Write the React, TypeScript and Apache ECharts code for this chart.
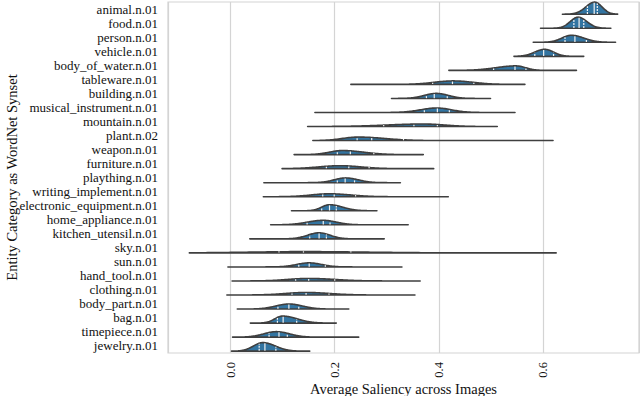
import React, { useEffect, useRef } from "react";
import * as echarts from "echarts";

const categories = [
  "animal.n.01", "food.n.01", "person.n.01", "vehicle.n.01", "body_of_water.n.01",
  "tableware.n.01", "building.n.01", "musical_instrument.n.01", "mountain.n.01", "plant.n.02",
  "weapon.n.01", "furniture.n.01", "plaything.n.01", "writing_implement.n.01", "electronic_equipment.n.01",
  "home_appliance.n.01", "kitchen_utensil.n.01", "sky.n.01", "sun.n.01", "hand_tool.n.01",
  "clothing.n.01", "body_part.n.01", "bag.n.01", "timepiece.n.01", "jewelry.n.01",
];

// extent of each violin (KDE support)
const minVals = [0.637, 0.595, 0.581, 0.544, 0.419, 0.231, 0.309, 0.162, 0.148, 0.158, 0.122, 0.099, 0.064, 0.063, 0.117, 0.077, 0.037, -0.079, -0.005, 0.003, -0.007, 0.013, 0.038, 0.004, 0.002];
const maxVals = [0.743, 0.730, 0.739, 0.678, 0.664, 0.565, 0.499, 0.546, 0.512, 0.619, 0.370, 0.390, 0.326, 0.418, 0.281, 0.341, 0.295, 0.625, 0.329, 0.364, 0.354, 0.227, 0.203, 0.246, 0.152];
// density peak location and spread on each side
const modeVals = [0.699, 0.667, 0.654, 0.603, 0.548, 0.427, 0.395, 0.396, 0.370, 0.245, 0.215, 0.210, 0.221, 0.190, 0.190, 0.178, 0.170, 0.140, 0.151, 0.150, 0.145, 0.112, 0.100, 0.088, 0.062];
const spreadLeft = [0.017, 0.015, 0.018, 0.019, 0.038, 0.036, 0.023, 0.031, 0.070, 0.030, 0.025, 0.040, 0.022, 0.035, 0.015, 0.030, 0.022, 0.100, 0.024, 0.040, 0.040, 0.025, 0.015, 0.024, 0.018];
const spreadRight = [0.014, 0.017, 0.024, 0.017, 0.018, 0.038, 0.023, 0.028, 0.040, 0.050, 0.040, 0.040, 0.024, 0.040, 0.025, 0.025, 0.021, 0.120, 0.024, 0.050, 0.045, 0.026, 0.028, 0.025, 0.024];
// peak density relative to the category band height
const peakDensity = [0.86, 0.79, 0.50, 0.50, 0.32, 0.25, 0.36, 0.32, 0.18, 0.25, 0.29, 0.21, 0.34, 0.21, 0.43, 0.32, 0.43, 0.09, 0.29, 0.18, 0.18, 0.36, 0.50, 0.39, 0.61];
// quartiles
const q1Vals = [0.685, 0.659, 0.642, 0.584, 0.505, 0.388, 0.376, 0.372, 0.294, 0.243, 0.205, 0.184, 0.205, 0.177, 0.175, 0.147, 0.152, 0.093, 0.131, 0.125, 0.118, 0.091, 0.090, 0.074, 0.055];
const medianVals = [0.698, 0.669, 0.661, 0.601, 0.546, 0.426, 0.391, 0.397, 0.352, 0.271, 0.230, 0.227, 0.220, 0.199, 0.190, 0.178, 0.170, 0.140, 0.151, 0.150, 0.145, 0.112, 0.101, 0.093, 0.066];
const q3Vals = [0.704, 0.678, 0.683, 0.620, 0.567, 0.467, 0.416, 0.420, 0.397, 0.332, 0.275, 0.266, 0.238, 0.240, 0.203, 0.191, 0.184, 0.231, 0.182, 0.200, 0.189, 0.131, 0.127, 0.109, 0.087];

const xTickValues = [0, 0.2, 0.4, 0.6];

const FONT = "Liberation Serif, Times New Roman, Times, serif";

export default function App() {
  const ref = useRef<HTMLDivElement>(null);
  useEffect(() => {
    const chart = echarts.init(ref.current!, null, { renderer: "svg" });
    const data = categories.map((_, i) => [minVals[i], maxVals[i], i]);

    const renderItem = (params: any, api: any) => {
      const i = params.dataIndex;
      const band = api.size([0, 1])[1];
      const center = api.coord([minVals[i], i])[1];
      const base = center + band * 0.37;
      const xOf = (v: number) => api.coord([v, i])[0];
      const hOf = (v: number) => {
        const s = v < modeVals[i] ? spreadLeft[i] : spreadRight[i];
        const z = (v - modeVals[i]) / s;
        return peakDensity[i] * band * Math.exp(-0.5 * z * z);
      };
      const lo = minVals[i];
      const hi = maxVals[i];
      const N = 160;
      const pts: number[][] = [[xOf(lo), base]];
      for (let k = 0; k <= N; k++) {
        const v = lo + ((hi - lo) * k) / N;
        pts.push([xOf(v), base - hOf(v)]);
      }
      pts.push([xOf(hi), base]);
      const children: any[] = [
        {
          type: "polygon",
          shape: { points: pts },
          style: { fill: "#3274a1", stroke: "#3f3f3f", lineWidth: 1.6, lineJoin: "round" },
        },
      ];
      [q1Vals[i], medianVals[i], q3Vals[i]].forEach((q, j) => {
        const h = Math.max(hOf(q), 2.2);
        children.push({
          type: "line",
          shape: { x1: xOf(q), y1: base - 0.3, x2: xOf(q), y2: base - h + 0.6 },
          style: {
            stroke: "#f2f2f2",
            lineWidth: 1.2,
            lineDash: j === 1 ? null : [2, 1],
          },
        });
      });
      return { type: "group", children };
    };

    chart.setOption({
      animation: false,
      backgroundColor: "#ffffff",
      grid: {
        left: 168,
        right: 1,
        top: 2,
        bottom: 43,
        show: true,
        borderColor: "#d4d4d4",
        borderWidth: 1.2,
        containLabel: false,
        outerBoundsMode: "none",
      },
      xAxis: {
        type: "value",
        min: -0.12,
        max: 0.784,
        splitNumber: 5,
        axisLine: { show: false },
        axisTick: { show: false },
        splitLine: { show: true, lineStyle: { color: "#d4d4d4", width: 1.2 } },
        axisLabel: {
          rotate: 90,
          margin: 9,
          fontFamily: FONT,
          fontSize: 12.5,
          color: "#111111",
          showMinLabel: false,
          showMaxLabel: false,
          formatter: (v: number) =>
            xTickValues.some((t) => Math.abs(t - v) < 1e-6) ? v.toFixed(1) : "",
        },
        name: "Average Saliency across Images",
        nameLocation: "middle",
        nameGap: 28,
        nameMoveOverlap: false,
        nameTextStyle: { fontFamily: FONT, fontSize: 14.5, color: "#111111" },
      },
      yAxis: {
        type: "category",
        data: categories,
        inverse: true,
        axisLine: { show: false },
        axisTick: { show: false },
        splitLine: { show: false },
        axisLabel: { interval: 0, fontFamily: FONT, fontSize: 13, color: "#111111", margin: 10 },
        name: "Entity Category as WordNet Synset",
        nameLocation: "middle",
        nameGap: 149,
        nameMoveOverlap: false,
        nameTextStyle: { fontFamily: FONT, fontSize: 14.5, color: "#111111" },
      },
      series: [
        {
          type: "custom",
          renderItem,
          data,
          encode: { x: [0, 1], y: 2 },
          clip: false,
        },
      ],
    });
    return () => chart.dispose();
  }, []);
  return (
    <div
      ref={ref}
      style={{ position: "fixed", left: 0, top: 0, width: 640, height: 396, background: "#fff" }}
    />
  );
}
